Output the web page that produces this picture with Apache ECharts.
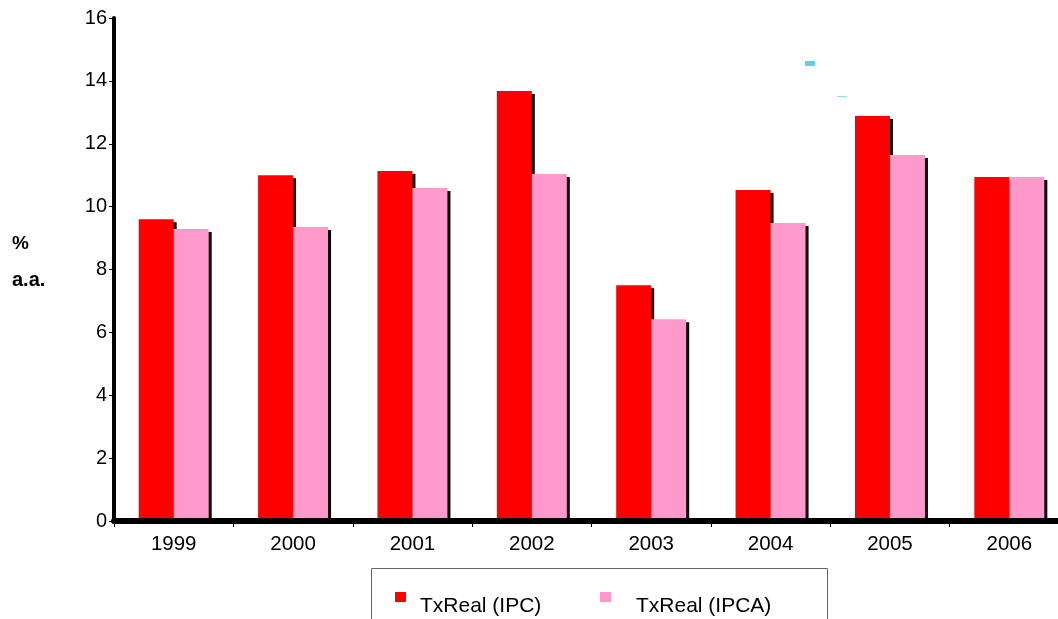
<!DOCTYPE html>
<html>
<head>
<meta charset="utf-8">
<script src="https://cdn.jsdelivr.net/npm/echarts@6/dist/echarts.min.js"></script>
<style>
html,body{margin:0;padding:0;background:#fff;}
#chart{width:1058px;height:619px;}
</style>
</head>
<body>
<div id="chart"></div>
<script>
// Annual real interest rates (% a.a.)
const years = ['1999','2000','2001','2002','2003','2004','2005','2006'];
const txRealIPC  = [9.6, 11.0, 11.13, 13.68, 7.5, 10.53, 12.88, 10.94];
const txRealIPCA = [9.29, 9.35, 10.59, 11.04, 6.42, 9.48, 11.64, 10.94];
const yTicks = [0, 2, 4, 6, 8, 10, 12, 14, 16];
const seriesNames = ['TxReal (IPC)', 'TxReal (IPCA)'];
const seriesColors = ['#FF0000', '#FF99CC'];

const FONT = 'Liberation Sans, Arial, sans-serif';
const chart = echarts.init(document.getElementById('chart'));

const barShadow = { shadowColor: '#000', shadowBlur: 0, shadowOffsetX: 3, shadowOffsetY: 3 };

// Legend drawn as a framed box below the plot
const legendItems = [];
const legendIconX = [395, 600];
const legendTextX = [420, 636];
seriesNames.forEach(function (name, i) {
  legendItems.push({ type: 'rect', shape: { x: legendIconX[i], y: 592, width: 11, height: 10 },
    style: { fill: seriesColors[i] } });
  legendItems.push({ type: 'text', x: legendTextX[i], y: 606,
    style: { text: name, font: '21px ' + FONT, fill: '#000', verticalAlign: 'middle' } });
});

chart.setOption({
  animation: false,
  backgroundColor: '#fff',
  // the plot runs past the right edge of the canvas, so keep the grid unconstrained
  grid: { left: 114, width: 955, top: 18, bottom: 98, containLabel: false, outerBoundsMode: 'none' },
  xAxis: {
    type: 'category',
    data: years,
    z: 5,
    axisLine: { lineStyle: { color: '#000', width: 6 } },
    axisTick: { show: true, length: 6, inside: false, lineStyle: { color: '#000', width: 1 } },
    axisLabel: { fontFamily: FONT, fontSize: 20.5, color: '#000', margin: 13 }
  },
  yAxis: {
    type: 'value',
    min: yTicks[0], max: yTicks[yTicks.length - 1], interval: 2,
    z: 5,
    axisLine: { show: true, lineStyle: { color: '#000', width: 4 } },
    axisTick: { show: true, length: 5, lineStyle: { color: '#000', width: 1 } },
    splitLine: { show: false },
    axisLabel: { fontFamily: FONT, fontSize: 20, color: '#000', margin: 7 }
  },
  series: [
    {
      name: seriesNames[0], type: 'bar', data: txRealIPC,
      barWidth: 35, barGap: '0%',
      itemStyle: Object.assign({ color: seriesColors[0] }, barShadow)
    },
    {
      name: seriesNames[1], type: 'bar', data: txRealIPCA,
      barWidth: 35, barGap: '0%',
      itemStyle: Object.assign({ color: seriesColors[1] }, barShadow)
    }
  ],
  graphic: [
    { type: 'text', left: 12, top: 234,
      style: { text: '%', font: 'bold 19px ' + FONT, fill: '#000' } },
    { type: 'text', left: 12, top: 270,
      style: { text: 'a.a.', font: 'bold 20px ' + FONT, fill: '#000' } },
    { type: 'rect', z: -1, shape: { x: 371.5, y: 568.5, width: 456, height: 70 },
      style: { fill: '#fff', stroke: '#666', lineWidth: 1 } },
    { type: 'rect', shape: { x: 805, y: 61, width: 10, height: 5 },
      style: { fill: '#66ccee' } },
    { type: 'rect', shape: { x: 837, y: 96, width: 10, height: 1 },
      style: { fill: '#88ddff' } }
  ].concat(legendItems)
});
</script>
</body>
</html>
